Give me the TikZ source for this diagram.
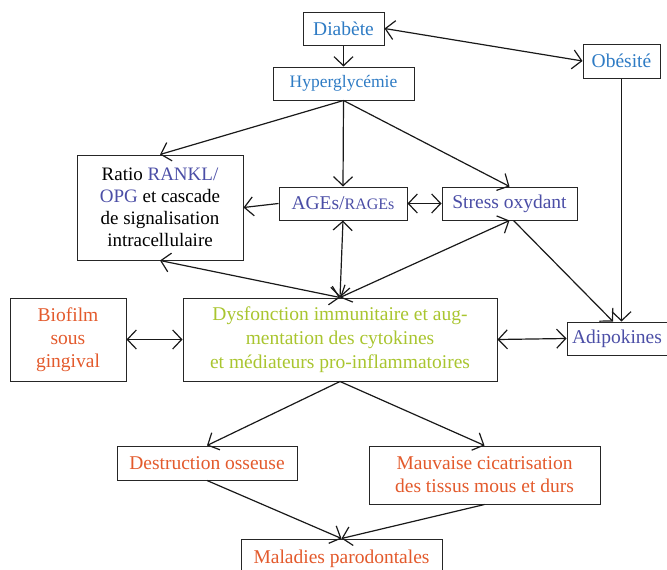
\documentclass[tikz,border=0pt]{standalone}
\usepackage{fontspec}
\setmainfont{Liberation Serif}
\usetikzlibrary{arrows.meta,calc}
\definecolor{cblue}{HTML}{2E7BC4}
\definecolor{cpurple}{HTML}{4B4EA6}
\definecolor{corange}{HTML}{E35A2C}
\definecolor{cgreen}{HTML}{A9C52F}
\tikzset{
  box/.style={draw=black!85, line width=1pt, inner sep=0pt, align=center,
    font=\fontsize{19.5}{23}\selectfont},
  tipA/.tip={Straight Barb[length=9pt,width=19pt,line width=1.2pt]},
  arr/.style={draw=black!90, line width=1.2pt, -tipA},
  darr/.style={draw=black!90, line width=1.2pt, tipA-tipA},
}
\begin{document}
\begin{tikzpicture}[x=1pt,y=-1pt]
\useasboundingbox (0,0) rectangle (667,570);
\clip (0,0) rectangle (667,570);
\node[box, minimum width=81, minimum height=33, text=cblue] (diab) at (343.5,28.5) {Diabète};
\node[box, minimum width=141, minimum height=33, text=cblue, font=\fontsize{17.5}{20}\selectfont] (hyp) at (343.5,83.5) {Hyperglycémie};
\node[box, minimum width=77, minimum height=34, text=cblue] (obe) at (621.5,61) {Obésité};
\node[box, minimum width=166, minimum height=105, font=\fontsize{19}{22}\selectfont] (ratio) at (160,207.5) {Ratio \textcolor{cpurple}{RANKL/}\\\textcolor{cpurple}{OPG} et cascade\\de signalisation\\intracellulaire};
\node[box, minimum width=128, minimum height=33, text=cpurple] (ages) at (343,203.5) {AGEs/{\fontsize{16}{18}\selectfont RAGEs}};
\node[box, minimum width=135, minimum height=33, text=cpurple] (stress) at (509.5,203.5) {Stress oxydant};
\node[box, minimum width=116, minimum height=83, text=corange] (bio) at (68,339.5) {Biofilm\\sous\\gingival};
\node[box, minimum width=314, minimum height=83, text=cgreen, font=\fontsize{19.5}{24}\selectfont] (dys) at (340,339.5) {Dysfonction immunitaire et aug-\\mentation des cytokines\\et médiateurs pro-inflammatoires};
\node[box, minimum width=100, minimum height=33, text=cpurple] (adip) at (617,338.5) {Adipokines};
\node[box, minimum width=180, minimum height=34, text=corange] (destr) at (207,463) {Destruction osseuse};
\node[box, minimum width=231, minimum height=58, text=corange] (mauv) at (484.5,475) {Mauvaise cicatrisation\\des tissus mous et durs};
\node[box, minimum width=201, minimum height=40, text=corange] (mal) at (341.5,559) {Maladies parodontales};
% connectors
\draw[arr] (diab.south) -- (hyp.north);
\draw[darr] (diab.east) -- (obe.west);
\draw[arr] (hyp.south) -- (ratio.north);
\draw[arr] (hyp.south) -- (ages.north);
\draw[arr] (hyp.south) -- (stress.north);
\draw[arr] (ages.west) -- (ratio.east);
\draw[darr] (ages.east) -- (stress.west);
\draw[darr] (dys.north) -- (ratio.south);
\draw[darr] (dys.north) -- (ages.south);
\draw[darr] (dys.north) -- (stress.south);
\draw[arr] ($(stress.south)+(4,0)$) -- ($(adip.north)+(-4,0)$);
\draw[arr] (obe.south) -- (obe.south |- adip.north);
\draw[darr] (bio.east) -- (dys.west);
\draw[darr] (dys.east) -- (adip.west);
\draw[arr] (dys.south) -- (destr.north);
\draw[arr] (dys.south) -- (mauv.north);
\draw[arr] (destr.south) -- (mal.north);
\draw[arr] (mauv.south) -- (mal.north);
\end{tikzpicture}
\end{document}
